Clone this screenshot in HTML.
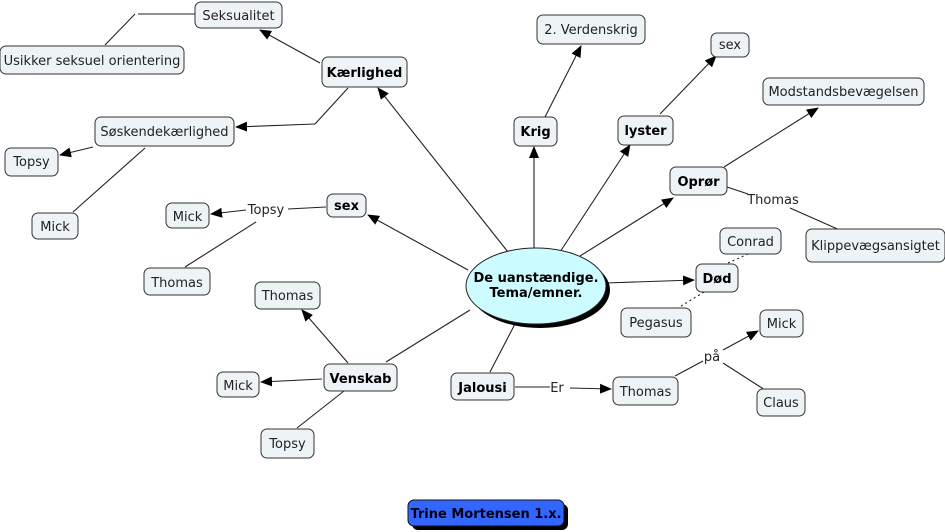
<!DOCTYPE html>
<html><head><meta charset="utf-8"><style>
html,body{margin:0;padding:0;background:#fff;}
svg{display:block;}
text{font-family:"DejaVu Sans","Liberation Sans",sans-serif;font-size:13px;fill:#222;}
.b{font-weight:bold;fill:#000;}
rect.n{fill:#eef3f6;stroke:#333;stroke-width:1;}
line{stroke:#222;stroke-width:1.1;}
</style></head><body>
<svg width="945" height="532" viewBox="0 0 945 532" xmlns="http://www.w3.org/2000/svg">
<defs><marker id="a" markerWidth="12" markerHeight="10" refX="11" refY="5" orient="auto" markerUnits="userSpaceOnUse"><path d="M0,0 L12,5 L0,10 z" fill="#000"/></marker></defs>
<g>
<line x1="508" y1="252" x2="378" y2="88" marker-end="url(#a)"/>
<line x1="320" y1="63" x2="260" y2="30" marker-end="url(#a)"/>
<line x1="348" y1="88" x2="315" y2="124"/>
<line x1="315" y1="124" x2="236" y2="127" marker-end="url(#a)"/>
<line x1="195" y1="14" x2="138" y2="14"/>
<line x1="135" y1="14" x2="105" y2="45"/>
<line x1="93" y1="147" x2="60" y2="155" marker-end="url(#a)"/>
<line x1="145" y1="148" x2="73" y2="212"/>
<line x1="468" y1="270" x2="368" y2="215" marker-end="url(#a)"/>
<line x1="326" y1="207" x2="288" y2="209"/>
<line x1="246" y1="210" x2="211" y2="214" marker-end="url(#a)"/>
<line x1="256" y1="222" x2="185" y2="267"/>
<line x1="470" y1="310" x2="386" y2="362"/>
<line x1="348" y1="363" x2="302" y2="310" marker-end="url(#a)"/>
<line x1="322" y1="379" x2="261" y2="382" marker-end="url(#a)"/>
<line x1="344" y1="391" x2="297" y2="428"/>
<line x1="516" y1="322" x2="490" y2="372"/>
<line x1="515" y1="387" x2="550" y2="387"/>
<line x1="570" y1="388" x2="611" y2="389" marker-end="url(#a)"/>
<line x1="675" y1="376" x2="703" y2="361"/>
<line x1="723" y1="350" x2="758" y2="331" marker-end="url(#a)"/>
<line x1="723" y1="363" x2="765" y2="390"/>
<line x1="606" y1="283" x2="694" y2="280" marker-end="url(#a)"/>
<line x1="728" y1="263" x2="748" y2="254" stroke-dasharray="2,3"/>
<line x1="704" y1="292" x2="678" y2="308" stroke-dasharray="2,3"/>
<line x1="580" y1="256" x2="673" y2="198" marker-end="url(#a)"/>
<line x1="724" y1="167" x2="818" y2="108" marker-end="url(#a)"/>
<line x1="727" y1="187" x2="748" y2="194"/>
<line x1="790" y1="208" x2="842" y2="231"/>
<line x1="560" y1="252" x2="630" y2="145" marker-end="url(#a)"/>
<line x1="660" y1="114" x2="716" y2="56" marker-end="url(#a)"/>
<line x1="534" y1="250" x2="534" y2="147" marker-end="url(#a)"/>
<line x1="545" y1="117" x2="581" y2="46" marker-end="url(#a)"/>
</g>
<g>
<rect class="n" x="195" y="2" width="87" height="26" rx="6"/><text x="238.5" y="20" text-anchor="middle">Seksualitet</text>
<rect class="n" x="0" y="46" width="184" height="28" rx="6"/><text x="92" y="65" text-anchor="middle">Usikker seksuel orientering</text>
<rect class="n" x="322" y="57" width="85" height="30" rx="6"/><text class="b" x="364.5" y="77" text-anchor="middle">Kærlighed</text>
<rect class="n" x="95" y="117" width="139" height="29" rx="6"/><text x="164.5" y="136" text-anchor="middle">Søskendekærlighed</text>
<rect class="n" x="5" y="148" width="53" height="28" rx="6"/><text x="31.5" y="166" text-anchor="middle">Topsy</text>
<rect class="n" x="32" y="213" width="46" height="26" rx="6"/><text x="55" y="231" text-anchor="middle">Mick</text>
<rect class="n" x="327" y="194" width="39" height="23" rx="6"/><text class="b" x="346.5" y="210" text-anchor="middle">sex</text>
<rect class="n" x="166" y="203" width="43" height="25" rx="6"/><text x="187.5" y="221" text-anchor="middle">Mick</text>
<text x="266" y="214" text-anchor="middle">Topsy</text>
<rect class="n" x="144" y="268" width="66" height="27" rx="6"/><text x="177" y="287" text-anchor="middle">Thomas</text>
<rect class="n" x="255" y="282" width="65" height="27" rx="6"/><text x="287.5" y="300" text-anchor="middle">Thomas</text>
<rect class="n" x="217" y="372" width="42" height="25" rx="6"/><text x="238" y="390" text-anchor="middle">Mick</text>
<rect class="n" x="324" y="364" width="73" height="27" rx="6"/><text class="b" x="360.5" y="383" text-anchor="middle">Venskab</text>
<rect class="n" x="261" y="429" width="53" height="29" rx="6"/><text x="287.5" y="448" text-anchor="middle">Topsy</text>
<rect class="n" x="451" y="373" width="63" height="27" rx="6"/><text class="b" x="482.5" y="392" text-anchor="middle">Jalousi</text>
<text x="557" y="392" text-anchor="middle">Er</text>
<rect class="n" x="613" y="377" width="65" height="28" rx="6"/><text x="645.5" y="396" text-anchor="middle">Thomas</text>
<text x="712" y="361" text-anchor="middle">på</text>
<rect class="n" x="760" y="310" width="43" height="27" rx="6"/><text x="781.5" y="328" text-anchor="middle">Mick</text>
<rect class="n" x="757" y="389" width="48" height="27" rx="6"/><text x="781" y="407" text-anchor="middle">Claus</text>
<rect class="n" x="621" y="308" width="70" height="29" rx="6"/><text x="656" y="327" text-anchor="middle">Pegasus</text>
<rect class="n" x="696" y="264" width="42" height="28" rx="6"/><text class="b" x="717" y="283" text-anchor="middle">Død</text>
<rect class="n" x="720" y="228" width="61" height="26" rx="6"/><text x="750.5" y="246" text-anchor="middle">Conrad</text>
<rect class="n" x="806" y="229" width="139" height="33" rx="6"/><text x="875.5" y="250" text-anchor="middle">Klippevægsansigtet</text>
<rect class="n" x="670" y="167" width="57" height="28" rx="6"/><text class="b" x="698.5" y="186" text-anchor="middle">Oprør</text>
<text x="773" y="204" text-anchor="middle">Thomas</text>
<rect class="n" x="763" y="78" width="161" height="27" rx="6"/><text x="843.5" y="96" text-anchor="middle">Modstandsbevægelsen</text>
<rect class="n" x="618" y="116" width="55" height="29" rx="6"/><text class="b" x="645.5" y="135" text-anchor="middle">lyster</text>
<rect class="n" x="711" y="33" width="38" height="24" rx="6"/><text x="730" y="49" text-anchor="middle">sex</text>
<rect class="n" x="514" y="117" width="43" height="29" rx="6"/><text class="b" x="535.5" y="136" text-anchor="middle">Krig</text>
<rect class="n" x="537" y="15" width="108" height="29" rx="6"/><text x="591" y="34" text-anchor="middle">2. Verdenskrig</text>
<ellipse cx="540" cy="290" rx="70" ry="38" fill="#000"/>
<ellipse cx="536" cy="286" rx="70" ry="38" fill="#ccfcff" stroke="#222"/>
<text class="b" x="536" y="282" text-anchor="middle">De uanstændige.</text>
<text class="b" x="536" y="297" text-anchor="middle">Tema/emner.</text>
<rect x="412" y="504" width="156" height="26" rx="6" fill="#000"/>
<rect x="408" y="500" width="156" height="26" rx="6" fill="#3366ff" stroke="#112"/>
<text class="b" x="486" y="518" text-anchor="middle" style="fill:#001">Trine Mortensen 1.x.</text>
</g>
</svg>
</body></html>
